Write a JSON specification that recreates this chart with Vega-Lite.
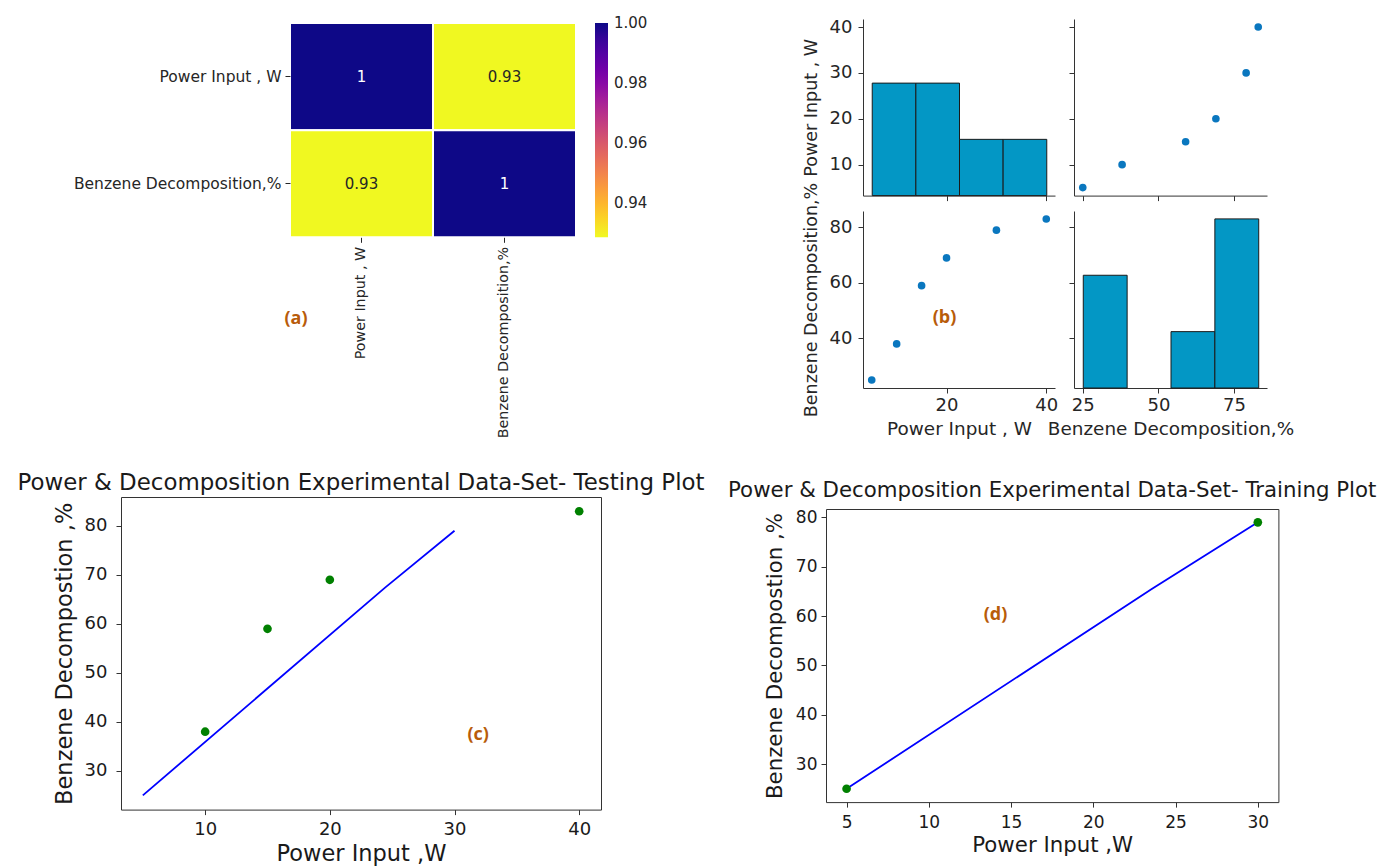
{
  "$schema": "https://vega.github.io/schema/vega-lite/v6.json",
  "background": "white",
  "padding": {"left": 16, "top": 18, "right": 0, "bottom": 0},
  "config": {
    "font": "DejaVu Sans",
    "view": {"stroke": null},
    "axis": {"grid": false, "labelFont": "DejaVu Sans", "titleFont": "DejaVu Sans", "titleFontWeight": "normal", "labelColor": "#262626", "titleColor": "#262626", "domainColor": "#333333", "tickColor": "#333333", "tickSize": 5, "labelOverlap": false, "labelFlush": false, "labelLimit": 0, "titleLimit": 0},
    "legend": {"labelLimit": 0},
    "title": {"font": "DejaVu Sans", "fontWeight": "normal", "color": "#1a1a1a", "limit": 0},
    "text": {"font": "DejaVu Sans"}
  },
  "datasets": {
    "exp": [
      {"power": 5, "benzene": 25},
      {"power": 10, "benzene": 38},
      {"power": 15, "benzene": 59},
      {"power": 20, "benzene": 69},
      {"power": 30, "benzene": 79},
      {"power": 40, "benzene": 83}
    ],
    "corr": [
      {"row": "Power Input , W", "col": "Power Input , W", "r": 1},
      {"row": "Power Input , W", "col": "Benzene Decomposition,%", "r": 0.9288},
      {"row": "Benzene Decomposition,%", "col": "Power Input , W", "r": 0.9288},
      {"row": "Benzene Decomposition,%", "col": "Benzene Decomposition,%", "r": 1}
    ],
    "testPts": [
      {"power": 10, "benzene": 38},
      {"power": 15, "benzene": 59},
      {"power": 20, "benzene": 69},
      {"power": 40, "benzene": 83}
    ],
    "testLine": [
      {"power": 5, "benzene": 25},
      {"power": 24.43, "benzene": 67.4},
      {"power": 30, "benzene": 79}
    ],
    "trainPts": [
      {"power": 5, "benzene": 25},
      {"power": 30, "benzene": 79}
    ],
    "trainLine": [
      {"power": 5, "benzene": 25},
      {"power": 23.55, "benzene": 65.5},
      {"power": 30, "benzene": 79}
    ]
  },
  "vconcat": [
    {
      "hconcat": [
        {
          "width": 455,
          "height": 322.3,
          "layer": [
            {
              "data": {"name": "corr"},
              "encoding": {
                "x": {"field": "col", "type": "nominal", "sort": ["Power Input , W", "Benzene Decomposition,%"], "scale": {"paddingInner": 0, "paddingOuter": 0.5909, "align": 1}, "axis": {"orient": "bottom", "offset": -104, "labelAngle": -90, "title": null, "domain": false, "labelFontSize": 14.3, "labelPadding": 4, "tickColor": "#262626"}},
                "y": {"field": "row", "type": "nominal", "sort": ["Power Input , W", "Benzene Decomposition,%"], "scale": {"paddingInner": 0, "paddingOuter": 0.504, "align": 0.037}, "axis": {"orient": "left", "offset": -169, "title": null, "domain": false, "labelFontSize": 15.5, "labelPadding": 4, "tickColor": "#262626"}}
              },
              "layer": [
                {
                  "mark": {"type": "rect", "stroke": "white", "strokeWidth": 2},
                  "encoding": {
                    "color": {"field": "r", "type": "quantitative", "scale": {"scheme": {"name": "plasma", "extent": [1, 0]}, "domain": [0.9287, 1.0001]}, "legend": {"orient": "right", "offset": 15, "padding": 4, "title": null, "direction": "vertical", "gradientLength": 214.3, "gradientThickness": 13, "gradientStrokeWidth": 0, "values": [0.94, 0.96, 0.98, 1.0], "format": ".2f", "labelFontSize": 15, "labelOffset": 6, "labelColor": "#262626", "labelFont": "DejaVu Sans", "labelOverlap": false}}
                  }
                },
                {
                  "mark": {"type": "text", "fontSize": 15},
                  "encoding": {
                    "text": {"field": "r", "type": "quantitative", "format": ".2~f"},
                    "color": {"condition": {"test": "datum.r > 0.96", "value": "white"}, "value": "#262626"}
                  }
                }
              ]
            },
            {
              "data": {"values": [{}]},
              "mark": {"type": "text", "font": "Open Sans", "fontWeight": "bold", "fontSize": 18, "color": "#b85c0a"},
              "encoding": {
                "x": {"datum": 0.3846, "type": "quantitative", "scale": {"domain": [0, 1]}, "axis": null},
                "y": {"datum": 0.068, "type": "quantitative", "scale": {"domain": [0, 1]}, "axis": null},
                "text": {"value": "(a)"}
              }
            }
          ],
          "resolve": {"scale": {"x": "independent", "y": "independent"}}
        },
        {
          "concat": [
            {
              "width": 192,
              "height": 176.6,
              "data": {"name": "exp"},
              "layer": [
                {
                  "mark": {"type": "bar", "fill": "#0397c5", "stroke": "#1a1a1a", "strokeWidth": 1, "binSpacing": 0, "opacity": 1},
                  "encoding": {
                    "x": {"field": "power", "type": "quantitative", "bin": {"extent": [5, 40], "step": 8.75, "nice": false}, "scale": {"domain": [3.25, 41.75]}, "axis": {"values": [20, 40], "labels": false, "title": null}},
                    "y": {"aggregate": "count", "type": "quantitative", "scale": {"domain": [0, 3.14]}, "axis": null}
                  }
                },
                {
                  "mark": {"type": "point", "opacity": 0},
                  "encoding": {
                    "x": {"field": "power", "type": "quantitative", "scale": {"domain": [3.25, 41.75]}, "axis": {"values": [20, 40], "labels": false, "title": null}},
                    "y": {"field": "power", "type": "quantitative", "scale": {"domain": [3.25, 41.75]}, "axis": {"orient": "left", "values": [10, 20, 30, 40], "title": "Power Input , W", "labelFontSize": 18, "titleFontSize": 17.5, "labelPadding": 6, "titlePadding": 9}}
                  }
                }
              ],
              "resolve": {"scale": {"y": "independent"}}
            },
            {
              "width": 193,
              "height": 176.6,
              "data": {"name": "exp"},
              "mark": {"type": "point", "filled": true, "size": 58, "color": "#0a77bf", "opacity": 1},
              "encoding": {
                "x": {"field": "benzene", "type": "quantitative", "scale": {"domain": [22.1, 85.9]}, "axis": {"values": [25, 50, 75], "labels": false, "title": null}},
                "y": {"field": "power", "type": "quantitative", "scale": {"domain": [3.25, 41.75]}, "axis": {"values": [10, 20, 30, 40], "labels": false, "title": null}}
              }
            },
            {
              "width": 192,
              "height": 177,
              "layer": [
                {
                  "data": {"name": "exp"},
                  "mark": {"type": "point", "filled": true, "size": 58, "color": "#0a77bf", "opacity": 1},
                  "encoding": {
                    "x": {"field": "power", "type": "quantitative", "scale": {"domain": [3.25, 41.75]}, "axis": {"values": [20, 40], "title": "Power Input , W", "labelFontSize": 18, "titleFontSize": 18.4, "labelPadding": 3, "titlePadding": 5}},
                    "y": {"field": "benzene", "type": "quantitative", "scale": {"domain": [22.1, 85.9]}, "axis": {"values": [40, 60, 80], "title": "Benzene Decomposition,%", "labelFontSize": 18, "titleFontSize": 17.5, "labelPadding": 6, "titlePadding": 9}}
                  }
                },
                {
                  "data": {"values": [{}]},
                  "mark": {"type": "text", "font": "Open Sans", "fontWeight": "bold", "fontSize": 18, "color": "#b85c0a"},
                  "encoding": {
                    "x": {"datum": 19.6, "type": "quantitative", "scale": {"domain": [3.25, 41.75]}},
                    "y": {"datum": 47.3, "type": "quantitative", "scale": {"domain": [22.1, 85.9]}},
                    "text": {"value": "(b)"}
                  }
                }
              ]
            },
            {
              "width": 193,
              "height": 177,
              "data": {"name": "exp"},
              "layer": [
                {
                  "mark": {"type": "bar", "fill": "#0397c5", "stroke": "#1a1a1a", "strokeWidth": 1, "binSpacing": 0, "opacity": 1},
                  "encoding": {
                    "x": {"field": "benzene", "type": "quantitative", "bin": {"extent": [25, 83], "step": 14.5, "nice": false}, "scale": {"domain": [22.1, 85.9]}, "axis": {"values": [25, 50, 75], "title": "Benzene Decomposition,%", "labelFontSize": 18, "titleFontSize": 18.4, "labelPadding": 3, "titlePadding": 5}},
                    "y": {"aggregate": "count", "type": "quantitative", "scale": {"domain": [0, 3.14]}, "axis": null}
                  }
                },
                {
                  "mark": {"type": "point", "opacity": 0},
                  "encoding": {
                    "x": {"field": "benzene", "type": "quantitative", "scale": {"domain": [22.1, 85.9]}, "axis": {"values": [25, 50, 75], "title": "Benzene Decomposition,%", "labelFontSize": 18, "titleFontSize": 18.4, "labelPadding": 3, "titlePadding": 5}},
                    "y": {"field": "benzene", "type": "quantitative", "scale": {"domain": [22.1, 85.9]}, "axis": {"orient": "left", "values": [40, 60, 80], "labels": false, "title": null}}
                  }
                }
              ],
              "resolve": {"scale": {"y": "independent"}}
            }
          ],
          "columns": 2,
          "spacing": {"row": -20, "column": -11}
        }
      ],
      "spacing": 150,
      "resolve": {"scale": {"color": "independent"}, "legend": {"color": "independent"}}
    },
    {
      "hconcat": [
        {
          "width": 480,
          "height": 312.6,
          "title": {"text": "Power & Decomposition Experimental Data-Set- Testing Plot", "fontSize": 22.9, "offset": 2.5, "anchor": "middle"},
          "view": {"stroke": "#333333", "strokeWidth": 1},
          "layer": [
            {
              "data": {"name": "testLine"},
              "mark": {"type": "line", "color": "#0000ff", "strokeWidth": 1.8},
              "encoding": {
                "x": {"field": "power", "type": "quantitative", "scale": {"domain": [3.25, 41.75]}, "axis": {"values": [10, 20, 30, 40], "title": "Power Input ,W", "titleFontSize": 22.5, "labelFontSize": 18, "domain": false, "labelPadding": 6, "titlePadding": 4, "labelColor": "#1a1a1a", "titleColor": "#1a1a1a"}},
                "y": {"field": "benzene", "type": "quantitative", "scale": {"domain": [22.1, 85.9]}, "axis": {"values": [30, 40, 50, 60, 70, 80], "title": "Benzene Decompostion ,%", "titleFontSize": 22.5, "labelFontSize": 18, "domain": false, "labelPadding": 9, "titlePadding": 8, "labelColor": "#1a1a1a", "titleColor": "#1a1a1a"}}
              }
            },
            {
              "data": {"name": "testPts"},
              "mark": {"type": "point", "filled": true, "size": 75, "color": "#008000", "opacity": 1},
              "encoding": {
                "x": {"field": "power", "type": "quantitative", "scale": {"domain": [3.25, 41.75]}},
                "y": {"field": "benzene", "type": "quantitative", "scale": {"domain": [22.1, 85.9]}}
              }
            },
            {
              "data": {"values": [{}]},
              "mark": {"type": "text", "font": "Open Sans", "fontWeight": "bold", "fontSize": 18, "color": "#b85c0a"},
              "encoding": {
                "x": {"datum": 31.9, "type": "quantitative", "scale": {"domain": [3.25, 41.75]}},
                "y": {"datum": 37.3, "type": "quantitative", "scale": {"domain": [22.1, 85.9]}},
                "text": {"value": "(c)"}
              }
            }
          ]
        },
        {
          "vconcat": [
            {
              "width": 452.4,
              "height": 1,
              "title": {"text": "Power & Decomposition Experimental Data-Set- Training Plot", "fontSize": 21.3, "offset": -10, "anchor": "middle"},
              "data": {"values": [{}]},
              "mark": {"type": "text"},
              "encoding": {"text": {"value": ""}}
            },
            {
              "width": 452.4,
              "height": 293.1,
              "view": {"stroke": "#333333", "strokeWidth": 1},
              "layer": [
                {
                  "data": {"name": "trainLine"},
                  "mark": {"type": "line", "color": "#0000ff", "strokeWidth": 1.8},
                  "encoding": {
                    "x": {"field": "power", "type": "quantitative", "scale": {"domain": [3.75, 31.25]}, "axis": {"values": [5, 10, 15, 20, 25, 30], "title": "Power Input ,W", "titleFontSize": 21.3, "labelFontSize": 17, "domain": false, "labelPadding": 7, "titlePadding": 4, "labelColor": "#1a1a1a", "titleColor": "#1a1a1a"}},
                    "y": {"field": "benzene", "type": "quantitative", "scale": {"domain": [22.3, 81.7]}, "axis": {"values": [30, 40, 50, 60, 70, 80], "title": "Benzene Decompostion ,%", "titleFontSize": 21.3, "labelFontSize": 17, "domain": false, "labelPadding": 4, "titlePadding": 10, "labelColor": "#1a1a1a", "titleColor": "#1a1a1a"}}
                  }
                },
                {
                  "data": {"name": "trainPts"},
                  "mark": {"type": "point", "filled": true, "size": 75, "color": "#008000", "opacity": 1},
                  "encoding": {
                    "x": {"field": "power", "type": "quantitative", "scale": {"domain": [3.75, 31.25]}},
                    "y": {"field": "benzene", "type": "quantitative", "scale": {"domain": [22.3, 81.7]}}
                  }
                },
                {
                  "data": {"values": [{}]},
                  "mark": {"type": "text", "font": "Open Sans", "fontWeight": "bold", "fontSize": 18, "color": "#b85c0a"},
                  "encoding": {
                    "x": {"datum": 14.05, "type": "quantitative", "scale": {"domain": [3.75, 31.25]}},
                    "y": {"datum": 60.3, "type": "quantitative", "scale": {"domain": [22.3, 81.7]}},
                    "text": {"value": "(d)"}
                  }
                }
              ]
            }
          ],
          "spacing": 4
        }
      ],
      "spacing": 22
    }
  ],
  "spacing": 33,
  "resolve": {"scale": {"color": "independent"}, "legend": {"color": "independent"}}
}
